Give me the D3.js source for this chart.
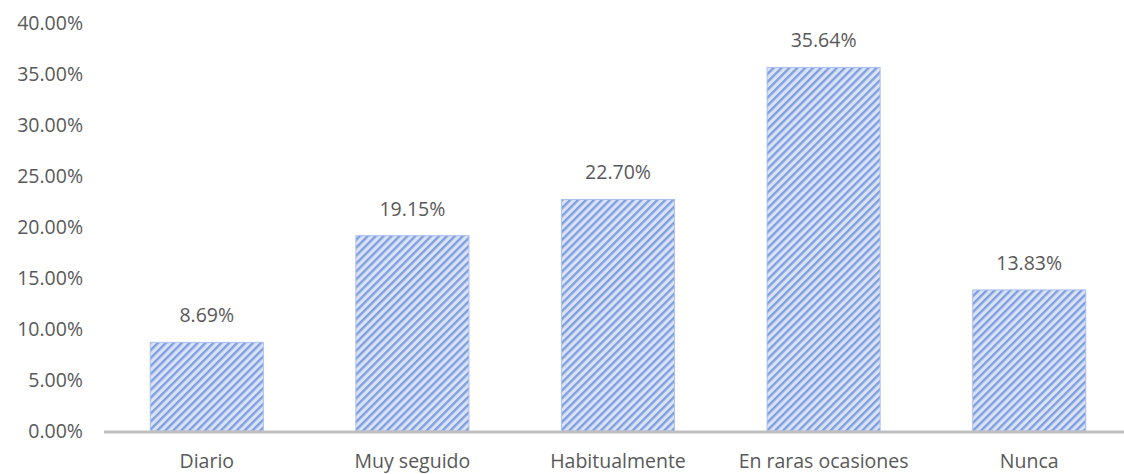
<!DOCTYPE html>
<html>
<head>
<meta charset="utf-8">
<script src="https://cdn.jsdelivr.net/npm/d3@7"></script>
<style>
  body { margin: 0; background: #fff; }
  text { font-family: "Open Sans", "Liberation Sans", sans-serif; fill: #595959; }
</style>
</head>
<body>
<svg width="1124" height="474"></svg>
<script>
// data
var categories = ["Diario", "Muy seguido", "Habitualmente", "En raras ocasiones", "Nunca"];
var values = [8.69, 19.15, 22.70, 35.64, 13.83];
var yTicks = [0, 5, 10, 15, 20, 25, 30, 35, 40];

var svg = d3.select("svg"),
    margin = {top: 23, right: -8, bottom: 43, left: 104},
    width = +svg.attr("width") - margin.left - margin.right,
    height = +svg.attr("height") - margin.top - margin.bottom;

// striped fill like the excel pattern
var defs = svg.append("defs");
var pat = defs.append("pattern")
    .attr("id", "stripes")
    .attr("patternUnits", "userSpaceOnUse")
    .attr("width", 5.6)
    .attr("height", 5.6)
    .attr("patternTransform", "rotate(45)");
pat.append("rect").attr("width", 5.6).attr("height", 5.6).attr("fill", "#dae3f6");
pat.append("rect").attr("width", 2.4).attr("height", 5.6).attr("fill", "#7f9fe0");

var x = d3.scaleBand()
    .domain(categories)
    .range([0, width])
    .paddingInner(0.45)
    .paddingOuter(0.225);

var y = d3.scaleLinear()
    .domain([0, 40])
    .range([height, 0]);

var g = svg.append("g")
    .attr("transform", "translate(" + margin.left + "," + margin.top + ")");

// y tick labels
g.selectAll(".ytick")
    .data(yTicks)
    .enter().append("text")
    .attr("class", "ytick")
    .attr("x", -21)
    .attr("y", function(d) { return y(d); })
    .attr("dy", "0.35em")
    .style("text-anchor", "end")
    .style("font-size", "19.5px")
    .text(function(d) { return d.toFixed(2) + "%"; });

// bars
g.selectAll(".bar")
    .data(values)
    .enter().append("rect")
    .attr("class", "bar")
    .attr("x", function(d, i) { return x(categories[i]); })
    .attr("y", function(d) { return y(d); })
    .attr("width", x.bandwidth())
    .attr("height", function(d) { return height - y(d); })
    .attr("fill", "url(#stripes)")
    .style("stroke", "#a9bfee")
    .style("stroke-width", 1);

// value labels
g.selectAll(".val")
    .data(values)
    .enter().append("text")
    .attr("class", "val")
    .attr("x", function(d, i) { return x(categories[i]) + x.bandwidth() / 2; })
    .attr("y", function(d) { return y(d) - 20; })
    .style("text-anchor", "middle")
    .style("font-size", "19.5px")
    .text(function(d) { return d.toFixed(2) + "%"; });

// x axis line
g.append("line")
    .attr("x1", 0)
    .attr("x2", 1124 - margin.left)
    .attr("y1", height + 1)
    .attr("y2", height + 1)
    .style("stroke", "#bfbfbf")
    .style("stroke-width", 3);

// category labels
g.selectAll(".cat")
    .data(categories)
    .enter().append("text")
    .attr("class", "cat")
    .attr("x", function(d) { return x(d) + x.bandwidth() / 2; })
    .attr("y", height + 37)
    .style("text-anchor", "middle")
    .style("font-size", "19.5px")
    .text(function(d) { return d; });
</script>
</body>
</html>
